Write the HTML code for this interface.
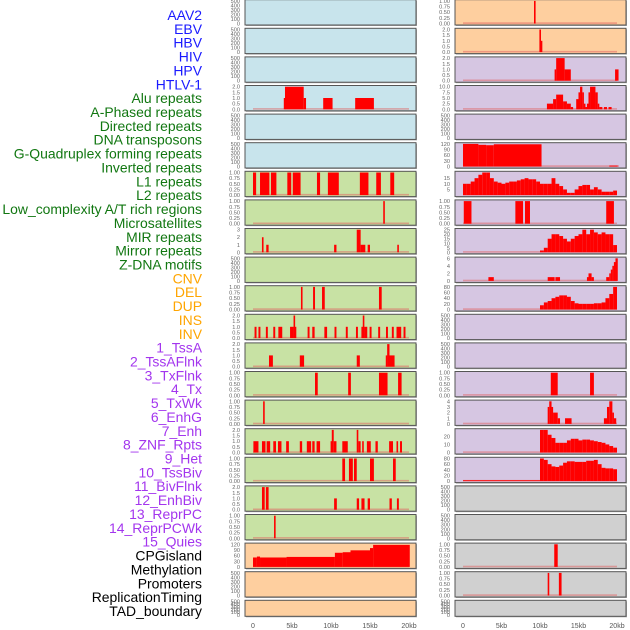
<!DOCTYPE html>
<html><head><meta charset="utf-8"><style>
html,body{margin:0;padding:0;background:#fff;}
svg{display:block;font-family:"Liberation Sans",sans-serif;}
</style></head><body>
<svg id="chart" width="630" height="630" viewBox="0 0 630 630" xmlns="http://www.w3.org/2000/svg"></svg>
<script>
// ---- data ----
const trackLabels = ["AAV2","EBV","HBV","HIV","HPV","HTLV-1","Alu repeats","A-Phased repeats","Directed repeats","DNA transposons","G-Quadruplex forming repeats","Inverted repeats","L1 repeats","L2 repeats","Low_complexity A/T rich regions","Microsatellites","MIR repeats","Mirror repeats","Z-DNA motifs","CNV","DEL","DUP","INS","INV","1_TssA","2_TssAFlnk","3_TxFlnk","4_Tx","5_TxWk","6_EnhG","7_Enh","8_ZNF_Rpts","9_Het","10_TssBiv","11_BivFlnk","12_EnhBiv","13_ReprPC","14_ReprPCWk","15_Quies","CPGisland","Methylation","Promoters","ReplicationTiming","TAD_boundary"];
const labelGroups = [6,13,5,15,5];
const xTickLabels = ["0","5kb","10kb","15kb","20kb"];
const xTickValues = [0,5,10,15,20];

const ticks500 = ["0","100","200","300","400","500"];
const ticks1 = ["0.00","0.25","0.50","0.75","1.00"];
const ticks2 = ["0.0","0.5","1.0","1.5","2.0"];

const row6RBins = [10,10,12,15,18,20,20,15,12,11,10,11,12,12,13,14,15,14,14,12,10,10,10,15,10,8,5,2,2,5,8,9,9,5,7,5,3,3,3,4];
const row8RBins = [2,5,15,20,20,18,15,12,15,18,20,25,20,25,22,20,22,20,20,8];
const row10RBins = [15,25,30,40,45,50,50,45,30,22,20,20,20,20,22,22,25,40,55,80];
const row15RBins = [28,28,22,18,12,12,12,15,17,17,15,16,16,15,14,13,12,10,8,6];
const row16RBins = [80,75,60,52,50,55,65,70,70,68,68,68,72,72,75,60,47,45,45,42];

const row0RSegs = [[9.25,9.4,1]];
const row1RSegs = [[9.95,10.1,2],[10.1,10.3,1]];
const row2RSegs = [[11.9,12.1,1],[12.1,13.2,2],[13.2,14.0,1],[19.75,20.2,1]];
const row3LSegs = [[4.0,4.1,1],[4.1,6.5,2],[6.5,6.8,1],[9.0,10.2,1],[13.1,15.5,1]];
const row3RSegs = [[10.9,11.7,2.5],[11.7,12.1,4.5],[12.1,13.0,6.5],[13.0,13.5,3.5],[13.5,14.0,2.5],[14.0,14.3,1],[14.7,15.0,4.5],[15.0,15.2,7.5],[15.2,15.5,10],[15.5,15.7,7.5],[15.7,15.9,2.5],[15.9,16.1,1],[16.1,16.3,2.5],[16.3,16.5,7.5],[16.5,17.2,10],[17.2,17.5,7.5],[17.5,17.7,2.5],[17.7,18.1,1],[18.3,18.7,1],[18.9,19.3,1]];
const row5RSegs = [[0,2,120],[2,3,115],[3,4,113],[4,10.2,118],[19.0,20.2,5]];
const row6LSegs = [[0,0.4,1],[0.9,2.1,1],[2.3,3.0,1],[4.4,4.9,1],[5.1,6.1,1],[8.2,8.6,1],[9.6,11.0,1],[13.7,14.8,1],[15.8,16.4,1],[17.6,18.1,1]];
const row7LSegs = [[16.7,16.9,1]];
const row7RSegs = [[0.1,1.1,1],[6.8,7.8,1],[8.05,8.7,1],[18.6,19.6,1]];
const row8LSegs = [[1.15,1.35,2],[1.7,2.0,1],[10.4,10.7,1],[13.3,13.8,3],[13.8,14.4,1],[14.7,15.0,1],[18.5,18.7,1]];
const row9RSegs = [[3.3,4.0,1],[11.0,11.9,1],[12.0,12.6,1],[16.1,16.3,1],[16.3,16.7,2],[16.7,17.0,1],[18.6,19.0,1],[19.0,19.2,2],[19.2,19.4,3],[19.4,19.6,4],[19.6,19.8,5],[19.8,20.1,6]];
const row10LSegs = [[6.15,6.35,1],[7.7,7.95,1],[8.85,9.2,1],[16.15,16.5,1]];
const row11LSegs = [[0.2,0.45,1],[0.7,0.95,1],[1.65,1.9,1],[2.6,2.85,1],[3.25,3.75,1],[4.75,5.2,1],[5.2,5.4,2],[5.4,5.5,1],[7.0,7.25,1],[7.6,7.9,1],[9.15,9.5,1],[10.45,10.7,1],[11.9,12.15,1],[13.2,13.45,1],[13.9,14.1,1],[14.1,14.25,2],[14.25,14.65,1],[14.95,15.2,1],[16.05,16.3,1],[17.05,17.3,1],[17.8,18.05,1],[18.4,19.0,1],[19.3,19.55,1]];
const row12LSegs = [[2.05,2.55,1],[6.0,6.55,1],[13.3,13.7,1],[17.05,17.2,1],[17.2,17.5,2],[17.5,18.15,1]];
const row13LSegs = [[7.95,8.3,1],[12.2,12.55,1],[16.15,17.25,1],[18.6,19.05,1]];
const row13RSegs = [[11.4,12.3,1],[16.5,17.0,1]];
const row14LSegs = [[1.3,1.5,1]];
const row14RSegs = [[11.0,11.2,3],[11.2,11.5,4],[11.5,11.7,3],[11.7,12.3,2],[12.3,12.6,1],[13.25,14.1,1],[18.3,18.7,1],[18.7,19.0,3],[19.0,19.4,4],[19.4,19.6,2],[19.6,19.9,1]];
const row15LSegs = [[0.05,0.7,1],[1.15,1.6,1],[1.75,2.2,1],[2.6,2.95,1],[3.2,3.65,1],[4.25,4.6,1],[6.0,6.3,1],[6.9,7.45,1],[7.6,7.9,1],[8.15,8.6,1],[10.0,10.1,1],[10.1,10.35,2],[10.35,10.7,1],[11.45,12.15,1],[13.3,13.5,2],[13.5,13.8,1],[14.0,14.2,1],[14.6,15.1,1],[15.7,16.0,1],[17.45,17.95,1],[18.4,18.6,1],[18.85,19.1,1]];
const row16LSegs = [[11.45,11.8,1],[12.3,12.8,1],[12.95,13.3,1],[15.0,15.5,1],[17.95,18.3,1]];
const row16RSegs = [[0,10,3]];
const row17LSegs = [[1.15,1.5,2],[1.65,2.0,2],[10.4,10.75,1],[13.3,13.6,1],[13.9,14.3,1],[14.7,15.0,1],[17.5,17.8,1],[18.45,18.7,1]];
const row18LSegs = [[2.7,2.9,1]];
const row19LSegs = [[0,0.5,50],[0.5,0.9,55],[0.9,4.3,50],[4.3,10.5,53],[10.5,11.5,75],[11.5,12.5,78],[12.5,15.0,88],[15.0,15.4,100],[15.4,20.1,117]];
const row19RSegs = [[11.85,12.3,1]];
const row20RSegs = [[11.0,11.2,1],[12.45,12.8,1]];

function bins(start, vals){ return vals.map((v,i)=>[start+i*0.5, start+i*0.5+0.5, v]); }

const BLUE="#c8e4ec", ORANGE="#fecf9f", PURPLE="#d6c6e2", GREEN="#c8e2a4", GRAY="#d0d0d0";
const E = {max:500, ticks:ticks500, vals:[0,100,200,300,400,500], segs:[], empty:true};
function P(bg, max, ticks, vals, segs){ return {bg, max, ticks, vals, segs}; }
function one(bg, segs){ return P(bg,1,ticks1,[0,0.25,0.5,0.75,1],segs); }
function two(bg, segs){ return P(bg,2,ticks2,[0,0.5,1,1.5,2],segs); }
function empty(bg){ return Object.assign({bg}, E); }

const leftPanels = [
 empty(BLUE), empty(BLUE), empty(BLUE), two(BLUE,row3LSegs), empty(BLUE), empty(BLUE),
 one(GREEN,row6LSegs), one(GREEN,row7LSegs),
 P(GREEN,3,["0","1","2","3"],[0,1,2,3],row8LSegs),
 empty(GREEN), one(GREEN,row10LSegs), two(GREEN,row11LSegs), two(GREEN,row12LSegs),
 one(GREEN,row13LSegs), one(GREEN,row14LSegs), two(GREEN,row15LSegs), one(GREEN,row16LSegs),
 two(GREEN,row17LSegs), one(GREEN,row18LSegs),
 P(ORANGE,120,["0","30","60","90","120"],[0,30,60,90,120],row19LSegs),
 empty(ORANGE), empty(ORANGE)
];
const rightPanels = [
 one(ORANGE,row0RSegs), two(ORANGE,row1RSegs), two(PURPLE,row2RSegs),
 P(PURPLE,10,["0.0","2.5","5.0","7.5","10.0"],[0,2.5,5,7.5,10],row3RSegs),
 empty(PURPLE),
 P(PURPLE,120,["0","30","60","90","120"],[0,30,60,90,120],row5RSegs),
 P(PURPLE,20,["5","10","15"],[5,10,15],bins(0,row6RBins)),
 one(PURPLE,row7RSegs),
 P(PURPLE,25,["0","5","10","15","20","25"],[0,5,10,15,20,25],bins(10,row8RBins)),
 P(PURPLE,6,["0","2","4","6"],[0,2,4,6],row9RSegs),
 P(PURPLE,80,["0","20","40","60","80"],[0,20,40,60,80],bins(10,row10RBins)),
 empty(PURPLE), empty(PURPLE), one(PURPLE,row13RSegs),
 P(PURPLE,4,["0","1","2","3","4"],[0,1,2,3,4],row14RSegs),
 P(PURPLE,28,["0","10","20"],[0,10,20],bins(10,row15RBins)),
 P(PURPLE,80,["0","20","40","60","80"],[0,20,40,60,80],row16RSegs.concat(bins(10,row16RBins))),
 empty(GRAY), empty(GRAY), one(GRAY,row19RSegs), one(GRAY,row20RSegs), empty(GRAY)
];

// ---- render ----
const NS="http://www.w3.org/2000/svg";
const svg=document.getElementById('chart');
function mk(tag, attrs, parent){ const e=document.createElementNS(NS,tag); for(const k in attrs) e.setAttribute(k,attrs[k]); (parent||svg).appendChild(e); return e; }

// labels
const groupColors=["#1a1aff","#117711","#ffa500","#a335ee","#000000"];
let li=0;
labelGroups.forEach((n,g)=>{ for(let k=0;k<n;k++){ const t=mk('text',{x:202,y:20+li*13.86,'text-anchor':'end','font-size':'13.95',fill:groupColors[g]});
 
 
 t.textContent=trackLabels[li]; li++; } });

const cols=[{x0:245,x1:416,k0:253,k20:409,tx:240,panels:leftPanels,name:'left'},{x0:455,x1:626,k0:463,k20:617,tx:450,panels:rightPanels,name:'right'}];
cols.forEach(c=>{
 const xs = kb => c.k0 + (kb/20)*(c.k20-c.k0);
 c.panels.forEach((p,i)=>{
  const top=-0.3+i*28.6; const h = (i===21)?16:25.3;
  const g=mk('g',{});
  
  
  mk('rect',{x:c.x0+1,y:top+1,width:c.x1-c.x0,height:h,fill:'#aaa'},g);
  mk('rect',{x:c.x0,y:top,width:c.x1-c.x0,height:h,fill:p.bg,stroke:'#555','stroke-width':1},g);
  const y0=top+h-1.5, y1=top+1.2;
  const ys = v => y0 - (v/p.max)*(y0-y1);
  p.vals.forEach((v,j)=>{ const t=mk('text',{x:c.tx,y:ys(v)+2,'text-anchor':'end','font-size':'5.6',fill:'#666'},g);
   
   
   t.textContent=p.ticks[j]; });
  if(p.segs.length){
   mk('rect',{x:xs(0),y:y0-1.2,width:xs(20)-xs(0),height:1.6,fill:'#e06060',opacity:0.5},g);
   p.segs.forEach(s=>{ let x=xs(s[0]), w=xs(s[1])-xs(s[0]); if(w<1.6){x-= (1.6-w)/2; w=1.6;}
    const r=mk('rect',{x:x,y:ys(s[2]),width:w,height:y0-ys(s[2]),fill:'#ff0000'},g);
    
     });
  }
 });
 xTickValues.forEach((v,j)=>{ const t=mk('text',{x:xs(v),y:628,'text-anchor':'middle','font-size':'7',fill:'#555'});
  
  
  t.textContent=xTickLabels[j]; });
});
</script>
</body></html>
